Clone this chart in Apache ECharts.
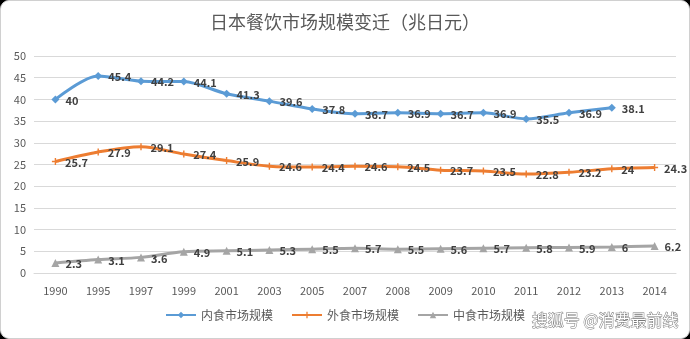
<!DOCTYPE html>
<html>
<head>
<meta charset="utf-8">
<script src="https://cdn.jsdelivr.net/npm/echarts@6/dist/echarts.min.js"></script>
<style>
html,body{margin:0;padding:0;background:#000;width:690px;height:339px;overflow:hidden;}
#frame{position:absolute;left:0;top:0;width:688px;height:337px;background:#fff;border:1px solid #d0d0d0;border-radius:9px;overflow:hidden;}
#chart{width:688px;height:337px;}
</style>
</head>
<body>
<div id="frame"><div id="chart"></div></div>
<script>
const years = ['1990','1995','1997','1999','2001','2003','2005','2007','2008','2009','2010','2011','2012','2013','2014'];
const homeMeal = [40, 45.4, 44.2, 44.1, 41.3, 39.6, 37.8, 36.7, 36.9, 36.7, 36.9, 35.5, 36.9, 38.1, null];
const eatingOut = [25.7, 27.9, 29.1, 27.4, 25.9, 24.6, 24.4, 24.6, 24.5, 23.7, 23.5, 22.8, 23.2, 24, 24.3];
const readyMeal = [2.3, 3.1, 3.6, 4.9, 5.1, 5.3, 5.5, 5.7, 5.5, 5.6, 5.7, 5.8, 5.9, 6, 6.2];
const seriesNames = ['内食市场规模', '外食市场规模', '中食市场规模'];
const yTicks = {min: 0, max: 50, interval: 5};

const font = '"Noto Sans CJK SC", "Noto Sans", sans-serif';
const labelStyle = {
  show: true, position: 'right', distance: 6, offset: [0, 1],
  color: '#404040', fontWeight: 'bold', fontSize: 11, fontFamily: font
};
const plusPath = 'path://M0,4 L10,4 L10,6 L0,6 Z M4,0 L6,0 L6,10 L4,10 Z';

const chart = echarts.init(document.getElementById('chart'));
chart.setOption({
  animation: false,
  title: {
    text: '日本餐饮市场规模变迁（兆日元）',
    left: 'center', top: 7,
    textStyle: {color: '#595959', fontSize: 18, fontWeight: 'normal', fontFamily: font}
  },
  legend: {
    bottom: 12, left: 'center',
    itemWidth: 30, itemHeight: 8, itemGap: 18,
    textStyle: {color: '#595959', fontSize: 12, fontFamily: font},
    data: seriesNames
  },
  grid: {left: 33, right: 13, top: 55, bottom: 65},
  xAxis: {
    type: 'category', data: years, boundaryGap: true,
    axisLine: {lineStyle: {color: '#d9d9d9'}},
    axisTick: {show: false},
    axisLabel: {color: '#595959', fontSize: 11, fontFamily: font, margin: 12}
  },
  yAxis: {
    type: 'value', min: yTicks.min, max: yTicks.max, interval: yTicks.interval,
    axisLine: {show: false}, axisTick: {show: false},
    splitLine: {lineStyle: {color: '#d9d9d9'}},
    axisLabel: {color: '#595959', fontSize: 11, fontFamily: font, margin: 8}
  },
  series: [
    {
      name: seriesNames[0], type: 'line', data: homeMeal, smooth: 0.3,
      symbol: 'diamond', symbolSize: 8,
      itemStyle: {color: '#5B9BD5'},
      lineStyle: {width: 3, color: '#5B9BD5'},
      label: labelStyle
    },
    {
      name: seriesNames[1], type: 'line', data: eatingOut, smooth: 0.3,
      symbol: plusPath, symbolSize: 7,
      itemStyle: {color: '#ED7D31'},
      lineStyle: {width: 3, color: '#ED7D31'},
      label: labelStyle
    },
    {
      name: seriesNames[2], type: 'line', data: readyMeal, smooth: 0.3,
      symbol: 'triangle', symbolSize: 8,
      itemStyle: {color: '#A5A5A5'},
      lineStyle: {width: 3, color: '#A5A5A5'},
      label: labelStyle
    }
  ],
  graphic: [{
    type: 'text', right: 10, bottom: 10, z: 100,
    style: {
      text: '搜狐号 @消费最前线',
      fill: '#ffffff', stroke: '#777777', lineWidth: 1,
      font: '16px "Noto Sans CJK SC", sans-serif'
    }
  }]
});
</script>
</body>
</html>
